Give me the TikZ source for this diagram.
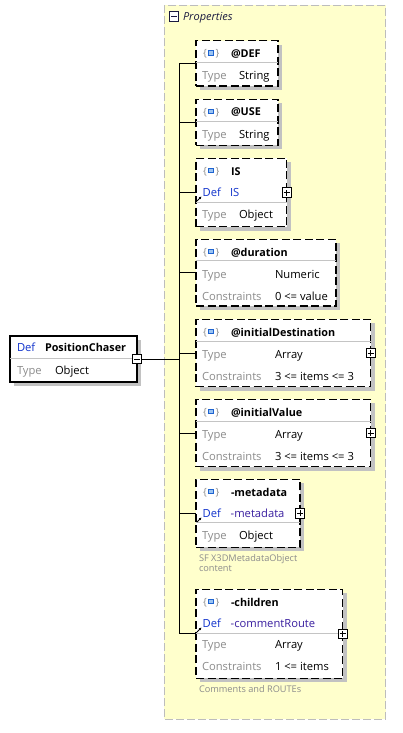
\documentclass[tikz,border=0pt]{standalone}
\usepackage{fontspec}
\setmainfont{Open Sans}
\usepackage{tikz}
\usetikzlibrary{positioning,shadows,arrows.meta}
\definecolor{panelyellow}{HTML}{FFFFCC}
\definecolor{panelline}{HTML}{BDBDBD}
\definecolor{shadowgrey}{HTML}{C2C2C2}
\definecolor{sepgrey}{HTML}{C4C4C4}
\definecolor{labelgrey}{HTML}{8C8C8C}
\definecolor{defblue}{HTML}{1133CC}
\definecolor{refpurple}{HTML}{3A1FA0}
\definecolor{iconline}{HTML}{1E63D0}
\definecolor{iconfill}{HTML}{9CC4F2}
\definecolor{hdrnavy}{HTML}{1A1A40}

% small attribute mark: {[]}
\newcommand{\attrmark}{{\color{labelgrey}\{}\hspace{1.2pt}{\setlength{\fboxsep}{0pt}\setlength{\fboxrule}{0.9pt}\raisebox{1.8pt}{\fcolorbox{iconline}{iconfill}{\rule{4.6pt}{0pt}\rule{0pt}{3.6pt}}}}\hspace{1.2pt}{\color{labelgrey}\}}}

\begin{document}
\begin{tikzpicture}[
    x=1pt, y=-1pt,
    every node/.style={inner sep=0pt, outer sep=0pt},
    attrbox/.style={draw=black, line width=1.3pt, dash pattern=on 8pt off 3.5pt,
      fill=white, anchor=north west,
      drop shadow={shadow xshift=4pt, shadow yshift=-4pt, fill=shadowgrey, opacity=1}},
    rootbox/.style={draw=black, line width=1.2pt, fill=white, anchor=north west,
      drop shadow={shadow xshift=4pt, shadow yshift=-4pt, fill=shadowgrey, opacity=1}},
    panel/.style={draw=panelline, fill=panelyellow, line width=0.9pt, dash pattern=on 8pt off 3pt},
    sepline/.style={draw=sepgrey, line width=0.9pt},
    conn/.style={draw=black, line width=1pt},
    refarrow/.style={draw=black, line width=0.9pt, -{Latex[length=2.6pt,width=2.8pt]}},
    plusbox/.style={draw=black, fill=white, line width=0.8pt, minimum width=9.5pt, minimum height=9.5pt,
      path picture={\draw[line width=0.8pt]
        ([xshift=-3pt]path picture bounding box.center) -- ([xshift=3pt]path picture bounding box.center)
        ([yshift=-3pt]path picture bounding box.center) -- ([yshift=3pt]path picture bounding box.center);}},
    minusbox/.style={draw=black, fill=white, line width=0.8pt, minimum width=9.5pt, minimum height=9.5pt,
      path picture={\draw[line width=0.8pt]
        ([xshift=-3pt]path picture bounding box.center) -- ([xshift=3pt]path picture bounding box.center);}},
    ttl/.style={font=\fontsize{10.8}{12}\selectfont\bfseries, anchor=base west},
    lbl/.style={font=\fontsize{11.2}{13}\selectfont, text=labelgrey, anchor=base west},
    val/.style={font=\fontsize{11.2}{13}\selectfont, anchor=base west},
    deflbl/.style={font=\fontsize{11.2}{13}\selectfont, text=defblue, anchor=base west},
    refval/.style={font=\fontsize{11.2}{13}\selectfont, text=refpurple, anchor=base west},
    iconmark/.style={font=\fontsize{10}{11}\selectfont, anchor=base west},
    note/.style={font=\fontsize{9.2}{10}\selectfont, text=labelgrey, anchor=base west},
    hdr/.style={font=\fontsize{11}{13}\selectfont\itshape, text=hdrnavy, anchor=base west}
  ]
  \useasboundingbox (0,0) rectangle (402,733);

  % ---- properties panel ----
  \draw[panel] (164,5) rectangle (385.7,719);
  \node[minusbox, draw=hdrnavy] (propsminus) at (174,16.5) {};
  \node[hdr] (propslbl) at (183,20.7) {Properties};

  % ---- root element ----
  \node[rootbox, minimum width=127pt, minimum height=46pt] (pcroot) at (10,336) {};
  \draw[sepline] (pcroot.west |- 0,358) -- (pcroot.east |- 0,358);
  \node[deflbl] (rootdef) at (17,351.7) {Def};
  \node[ttl] (rootname) at (45,351.7) {PositionChaser};
  \node[lbl] (roottype) at (17,374.3) {Type};
  \node[val] (roottypev) at (55,374.3) {Object};
  \node[minusbox] (rootminus) at (pcroot.east) {};

  % ---- attribute boxes ----
  \node[attrbox, minimum width=82pt, minimum height=45.4pt] (pcdef) at (196,40.7) {};
  \draw[sepline] (pcdef.west |- 0,62.3) -- (pcdef.east |- 0,62.3);
  \node[iconmark] (defmark) at (203,56.5) {\attrmark};
  \node[ttl] (defname) at (231,57.3) {@DEF};
  \node[lbl] (deftype) at (202,79.5) {Type};
  \node[val] (deftypev) at (239,79.5) {String};

  \node[attrbox, minimum width=82pt, minimum height=46pt] (pcuse) at (196,99.3) {};
  \draw[sepline] (pcuse.west |- 0,121.3) -- (pcuse.east |- 0,121.3);
  \node[iconmark] (usemark) at (203,115.2) {\attrmark};
  \node[ttl] (usename) at (231,116) {@USE};
  \node[lbl] (usetype) at (202,138.3) {Type};
  \node[val] (usetypev) at (239,138.3) {String};

  \node[attrbox, minimum width=90.7pt, minimum height=68.4pt] (pcis) at (196,158.3) {};
  \draw[sepline] (pcis.west |- 0,202.3) -- (pcis.east |- 0,202.3);
  \node[iconmark] (ismark) at (203,174.2) {\attrmark};
  \node[ttl] (isname) at (231,175) {IS};
  \node[deflbl] (isdef) at (202.7,196) {Def};
  \node[deflbl] (isdefv) at (230,196) {IS};
  \node[lbl] (istype) at (202,218.3) {Type};
  \node[val] (istypev) at (239,218.3) {Object};
  \node[plusbox] (isplus) at (pcis.east) {};
  \draw[refarrow] (197,201) -- (201.5,196.5);

  \node[attrbox, minimum width=140pt, minimum height=66.7pt] (pcdur) at (196,239.3) {};
  \draw[sepline] (pcdur.west |- 0,260.5) -- (pcdur.east |- 0,260.5);
  \node[iconmark] (durmark) at (203,255.2) {\attrmark};
  \node[ttl] (durname) at (231,256) {@duration};
  \node[lbl] (durtype) at (202,278.3) {Type};
  \node[val] (durtypev) at (275,278.3) {Numeric};
  \node[lbl] (durcons) at (202,300) {Constraints};
  \node[val] (durconsv) at (275,300) {0 <= value};

  \node[attrbox, minimum width=174.7pt, minimum height=67.4pt] (pcinitdest) at (196,319.3) {};
  \draw[sepline] (pcinitdest.west |- 0,341.3) -- (pcinitdest.east |- 0,341.3);
  \node[iconmark] (idmark) at (203,335.2) {\attrmark};
  \node[ttl] (idname) at (231,336) {@initialDestination};
  \node[lbl] (idtype) at (202,358.3) {Type};
  \node[val] (idtypev) at (275,358.3) {Array};
  \node[lbl] (idcons) at (202,380) {Constraints};
  \node[val] (idconsv) at (275,380) {3 <= items <= 3};
  \node[plusbox] (idplus) at (pcinitdest.east) {};

  \node[attrbox, minimum width=174.7pt, minimum height=67.4pt] (pcinitval) at (196,399.3) {};
  \draw[sepline] (pcinitval.west |- 0,421.3) -- (pcinitval.east |- 0,421.3);
  \node[iconmark] (ivmark) at (203,415.2) {\attrmark};
  \node[ttl] (ivname) at (231,416) {@initialValue};
  \node[lbl] (ivtype) at (202,438.3) {Type};
  \node[val] (ivtypev) at (275,438.3) {Array};
  \node[lbl] (ivcons) at (202,460) {Constraints};
  \node[val] (ivconsv) at (275,460) {3 <= items <= 3};
  \node[plusbox] (ivplus) at (pcinitval.east) {};

  \node[attrbox, minimum width=104pt, minimum height=68pt] (pcmeta) at (196,479.3) {};
  \draw[sepline] (pcmeta.west |- 0,522.7) -- (pcmeta.east |- 0,522.7);
  \node[iconmark] (metamark) at (203,495.2) {\attrmark};
  \node[ttl] (metaname) at (231,496) {-metadata};
  \node[deflbl] (metadef) at (202.7,517) {Def};
  \node[refval] (metadefv) at (230.7,517) {-metadata};
  \node[lbl] (metatype) at (202,539.3) {Type};
  \node[val] (metatypev) at (239,539.3) {Object};
  \node[plusbox] (metaplus) at (pcmeta.east) {};
  \draw[refarrow] (197,522) -- (201.5,517.5);
  \node[note] (metanote1) at (199,561.7) {SF X3DMetadataObject};
  \node[note] (metanote2) at (199,571.7) {content};

  \node[attrbox, minimum width=146.7pt, minimum height=89pt] (pcchildren) at (196,589.3) {};
  \draw[sepline] (pcchildren.west |- 0,633.3) -- (pcchildren.east |- 0,633.3);
  \node[iconmark] (chmark) at (203,605.2) {\attrmark};
  \node[ttl] (chname) at (231,606) {-children};
  \node[deflbl] (chdef) at (202.7,627) {Def};
  \node[refval] (chdefv) at (230.7,627) {-commentRoute};
  \node[lbl] (chtype) at (202,648.3) {Type};
  \node[val] (chtypev) at (275,648.3) {Array};
  \node[lbl] (chcons) at (202,670) {Constraints};
  \node[val] (chconsv) at (275,670) {1 <= items};
  \node[plusbox] (chplus) at (pcchildren.east) {};
  \draw[refarrow] (197,632) -- (201.5,627.5);
  \node[note] (chnote) at (199,692) {Comments and ROUTEs};

  % ---- connectors ----
  \coordinate (spinex) at (179,0);
  \draw[conn] (spinex |- pcdef.west) -- (spinex |- pcchildren.west);
  \draw[conn] (rootminus.east) -- (spinex |- rootminus.east);
  \draw[conn] (spinex |- pcdef.west) -- (pcdef.west);
  \draw[conn] (spinex |- pcuse.west) -- (pcuse.west);
  \draw[conn] (spinex |- pcis.west) -- (pcis.west);
  \draw[conn] (spinex |- pcdur.west) -- (pcdur.west);
  \draw[conn] (spinex |- pcinitdest.west) -- (pcinitdest.west);
  \draw[conn] (spinex |- pcinitval.west) -- (pcinitval.west);
  \draw[conn] (spinex |- pcmeta.west) -- (pcmeta.west);
  \draw[conn] (spinex |- pcchildren.west) -- (pcchildren.west);

\end{tikzpicture}
\end{document}
